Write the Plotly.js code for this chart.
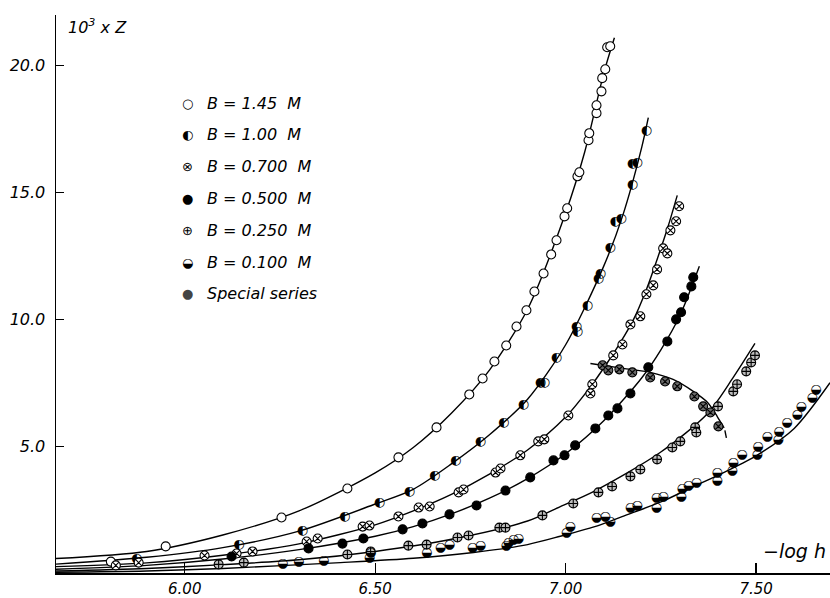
<!DOCTYPE html>
<html>
<head>
<meta charset="utf-8">
<script src="https://cdn.plot.ly/plotly-3.0.1.min.js"></script>
<style>html,body{margin:0;padding:0;background:#fff;}#chart{width:830px;height:598px;}</style>
</head>
<body>
<div id="chart"></div>
<script>
// ---------- data ----------
const xTickVals = [6.0, 6.5, 7.0, 7.5];
const xTickText = ['6.00', '6.50', '7.00', '7.50'];
const yTickVals = [5, 10, 15, 20];
const yTickText = ['5.0', '10.0', '15.0', '20.0'];

const legendLabels = ['B = 1.45  M', 'B = 1.00  M', 'B = 0.700  M', 'B = 0.500  M', 'B = 0.250  M', 'B = 0.100  M', 'Special series'];
const legendGlyphs = ['○', '◐', '⊗', '●', '⊕', '◒', '●'];

// B = 1.45 M (open circles)
const x145 = [5.806, 5.950, 6.254, 6.427, 6.561, 6.661, 6.747, 6.782, 6.813, 6.844, 6.871, 6.897, 6.918, 6.942, 6.962, 6.976, 6.997, 7.004, 7.031, 7.036, 7.060, 7.062, 7.081, 7.081, 7.094, 7.096, 7.104, 7.109, 7.117];
const y145 = [0.45, 1.05, 2.19, 3.33, 4.56, 5.74, 7.04, 7.67, 8.34, 8.97, 9.72, 10.36, 11.10, 11.81, 12.56, 13.12, 14.06, 14.38, 15.64, 15.80, 17.06, 17.34, 18.13, 18.44, 18.99, 19.51, 19.86, 20.73, 20.77];
const cx145 = [5.662, 5.9, 6.1, 6.3, 6.5, 6.6, 6.7, 6.8, 6.9, 7.0, 7.05, 7.1, 7.128];
const cy145 = [0.57, 0.85, 1.5, 2.45, 3.95, 4.95, 6.3, 8.0, 10.4, 14.2, 16.6, 19.7, 21.1];

// B = 1.00 M (half filled)
const x100 = [5.874, 6.142, 6.309, 6.420, 6.511, 6.590, 6.656, 6.711, 6.776, 6.837, 6.889, 6.934, 6.944, 6.976, 7.028, 7.031, 7.057, 7.086, 7.091, 7.117, 7.130, 7.146, 7.175, 7.175, 7.188, 7.212];
const y100 = [0.57, 1.12, 1.68, 2.23, 2.78, 3.21, 3.85, 4.44, 5.19, 5.94, 6.65, 7.51, 7.51, 8.50, 9.72, 9.53, 10.55, 11.62, 11.78, 12.84, 13.83, 13.98, 15.29, 16.15, 16.19, 17.42];
const cx100 = [5.662, 5.9, 6.1, 6.3, 6.5, 6.6, 6.7, 6.8, 6.9, 7.0, 7.1, 7.15, 7.2, 7.217];
const cy100 = [0.35, 0.62, 1.0, 1.65, 2.72, 3.3, 4.3, 5.45, 6.85, 9.0, 12.1, 14.1, 16.8, 17.95];

// B = 0.700 M
const x070 = [5.819, 5.879, 6.052, 6.136, 6.178, 6.320, 6.349, 6.467, 6.485, 6.561, 6.614, 6.643, 6.719, 6.732, 6.816, 6.829, 6.881, 6.928, 6.944, 7.007, 7.065, 7.070, 7.125, 7.149, 7.170, 7.196, 7.212, 7.230, 7.240, 7.256, 7.267, 7.275, 7.290, 7.298];
const y070 = [0.30, 0.41, 0.69, 0.77, 0.85, 1.24, 1.36, 1.83, 1.87, 2.23, 2.58, 2.62, 3.18, 3.29, 3.96, 4.12, 4.64, 5.19, 5.27, 6.21, 7.08, 7.44, 8.58, 9.01, 9.80, 10.12, 10.99, 11.34, 11.97, 12.80, 12.60, 13.51, 13.87, 14.46];
const cx070 = [5.662, 5.9, 6.1, 6.3, 6.5, 6.6, 6.7, 6.8, 6.9, 7.0, 7.06, 7.109, 7.143, 7.178, 7.212, 7.243, 7.269, 7.293];
const cy070 = [0.25, 0.4, 0.7, 1.15, 1.9, 2.45, 3.1, 3.9, 4.85, 6.15, 7.24, 8.28, 9.07, 9.99, 11.18, 12.49, 13.67, 14.89];

// B = 0.500 M (filled)
const x050 = [6.123, 6.325, 6.414, 6.469, 6.572, 6.624, 6.695, 6.766, 6.842, 6.907, 6.968, 6.997, 7.025, 7.078, 7.112, 7.136, 7.170, 7.217, 7.267, 7.290, 7.303, 7.311, 7.330, 7.335];
const y050 = [0.65, 0.97, 1.16, 1.36, 1.72, 1.95, 2.31, 2.66, 3.25, 3.77, 4.44, 4.64, 5.03, 5.70, 6.21, 6.49, 7.08, 8.11, 9.13, 10.00, 10.28, 10.87, 11.30, 11.66];
const cx050 = [5.662, 5.9, 6.1, 6.3, 6.5, 6.6, 6.7, 6.8, 6.9, 7.0, 7.1, 7.2, 7.25, 7.3, 7.351];
const cy050 = [0.15, 0.3, 0.55, 0.92, 1.45, 1.83, 2.33, 2.95, 3.72, 4.7, 6.0, 7.7, 8.8, 10.15, 12.09];

// B = 0.250 M
const x025 = [6.089, 6.155, 6.427, 6.488, 6.587, 6.635, 6.716, 6.745, 6.826, 6.842, 6.939, 7.020, 7.086, 7.122, 7.170, 7.196, 7.240, 7.280, 7.301, 7.340, 7.343, 7.400, 7.440, 7.450, 7.474, 7.487, 7.497];
const y025 = [0.34, 0.41, 0.73, 0.85, 1.08, 1.12, 1.40, 1.48, 1.79, 1.79, 2.27, 2.74, 3.18, 3.41, 3.81, 4.08, 4.48, 4.95, 5.19, 5.74, 5.54, 6.57, 7.16, 7.44, 7.95, 8.30, 8.58];
const cx025 = [5.662, 5.9, 6.1, 6.3, 6.5, 6.7, 6.9, 6.986, 7.073, 7.248, 7.374, 7.44, 7.497];
const cy025 = [0.08, 0.18, 0.33, 0.52, 0.85, 1.33, 2.05, 2.62, 3.21, 4.75, 6.31, 7.71, 9.05];

// B = 0.100 M (half filled, lower half)
const x010 = [6.257, 6.299, 6.365, 6.485, 6.488, 6.635, 6.671, 6.695, 6.755, 6.776, 6.844, 6.850, 6.863, 6.876, 7.002, 7.012, 7.081, 7.104, 7.117, 7.170, 7.188, 7.238, 7.238, 7.256, 7.303, 7.306, 7.322, 7.343, 7.398, 7.398, 7.437, 7.440, 7.463, 7.503, 7.505, 7.529, 7.558, 7.560, 7.581, 7.608, 7.618, 7.647, 7.657];
const y010 = [0.37, 0.45, 0.49, 0.61, 0.81, 0.81, 1.01, 1.12, 1.01, 1.08, 1.08, 1.20, 1.32, 1.36, 1.60, 1.83, 2.19, 2.23, 2.03, 2.58, 2.66, 2.58, 2.98, 3.02, 3.02, 3.33, 3.45, 3.57, 3.65, 3.96, 4.04, 4.36, 4.67, 4.67, 4.99, 5.39, 5.27, 5.58, 5.94, 6.25, 6.57, 6.92, 7.24];
const cx010 = [5.662, 5.9, 6.1, 6.409, 6.6, 6.758, 6.9, 6.986, 7.091, 7.162, 7.25, 7.335, 7.42, 7.503, 7.6, 7.694];
const cy010 = [0.03, 0.08, 0.18, 0.41, 0.58, 0.81, 1.12, 1.45, 1.9, 2.3, 2.8, 3.4, 4.0, 4.65, 5.7, 7.5];

// Special series
const xSp = [7.097, 7.112, 7.141, 7.175, 7.222, 7.261, 7.293, 7.338, 7.361, 7.380, 7.401];
const ySp = [8.19, 7.99, 8.03, 7.91, 7.71, 7.55, 7.36, 6.96, 6.57, 6.33, 5.78];
const cxSp = [7.065, 7.151, 7.222, 7.282, 7.335, 7.372, 7.398, 7.416];
const cySp = [8.26, 8.07, 7.91, 7.63, 7.16, 6.73, 6.17, 5.72];
const cxSpDash = [7.418, 7.422];
const cySpDash = [5.62, 5.33];

// ---------- drawing ----------
const W = 830, H = 598, ML = 56, MR = 0, MT = 15, MB = 25;
const pw = W - ML - MR, ph = H - MT - MB;
const px2paper = p => (p - ML) / pw;
const py2paper = p => (H - MB - p) / ph;

const FONT = 'DejaVu Sans';
const lineStyle = {color: '#000', width: 1.4};

function curve(x, y, dash) {
  return {x: x, y: y, type: 'scatter', mode: 'lines', line: Object.assign({shape: 'spline', smoothing: 0.8, dash: dash || 'solid'}, lineStyle), showlegend: false, hoverinfo: 'skip'};
}
function markers(x, y, symbol, color, lineColor, size) {
  return {x: x, y: y, type: 'scatter', mode: 'markers', showlegend: false,
    marker: {symbol: symbol, size: size || 9, color: color, line: {color: lineColor, width: 1.1}}};
}
function glyphs(x, y, g) {
  return {x: x, y: y, type: 'scatter', mode: 'text', showlegend: false, text: x.map(() => g),
    textposition: 'middle center', textfont: {family: FONT, size: 13, color: '#000'}};
}

const traces = [
  curve(cx145, cy145), curve(cx100, cy100), curve(cx070, cy070), curve(cx050, cy050),
  curve(cx025, cy025), curve(cx010, cy010), curve(cxSp, cySp), curve(cxSpDash, cySpDash),
  markers(x145, y145, 'circle', '#fff', '#000', 9),
  glyphs(x100, y100, '◐'),
  markers(x070, y070, 'circle-x', '#fff', '#000', 9),
  markers(x050, y050, 'circle', '#000', '#000', 9),
  markers(x025, y025, 'circle-cross', '#bdbdbd', '#000', 9),
  glyphs(x010, y010, '◒'),
  markers(xSp, ySp, 'circle-x', '#6a6a6a', '#000', 9)
];

const annotations = [];
const rowY0 = 103, rowDY = 31.8;
legendLabels.forEach((lab, i) => {
  const yy = rowY0 + i * rowDY;
  const col = (i === 6) ? '#444' : '#000';
  annotations.push({xref: 'paper', yref: 'paper', x: px2paper(187), y: py2paper(yy), xanchor: 'center', yanchor: 'middle',
    text: '<span style="color:' + col + '">' + legendGlyphs[i] + '</span>', showarrow: false,
    font: {family: FONT, size: 13, color: '#000'}});
  annotations.push({xref: 'paper', yref: 'paper', x: px2paper(205), y: py2paper(yy), xanchor: 'left', yanchor: 'middle',
    text: lab, showarrow: false, font: {family: FONT, size: 16, color: '#000', style: 'italic'}});
});
annotations.push({xref: 'paper', yref: 'paper', x: px2paper(66), y: py2paper(26), xanchor: 'left', yanchor: 'middle',
  text: '10<sup>3</sup> x Z', showarrow: false, font: {family: FONT, size: 16, color: '#000', style: 'italic'}});
annotations.push({xref: 'paper', yref: 'paper', x: px2paper(828), y: py2paper(551), xanchor: 'right', yanchor: 'middle',
  text: '\u2212log h', showarrow: false, font: {family: FONT, size: 19, color: '#000', style: 'italic'}});

const layout = {
  width: W, height: H,
  margin: {l: ML, r: MR, t: MT, b: MB, pad: 0},
  paper_bgcolor: '#fff', plot_bgcolor: '#fff',
  showlegend: false,
  font: {family: FONT, color: '#000'},
  xaxis: {range: [5.662, 7.694], showgrid: false, zeroline: false, showline: true, linecolor: '#000', linewidth: 1.5,
    ticks: 'inside', ticklen: 10, tickwidth: 1.2, tickcolor: '#000', tickmode: 'array', tickvals: xTickVals, ticktext: xTickText,
    tickfont: {family: FONT, size: 15, color: '#000', style: 'italic'}, ticklabelstandoff: 1, mirror: false, fixedrange: true},
  yaxis: {range: [0, 22.0], showgrid: false, zeroline: false, showline: true, linecolor: '#000', linewidth: 1.5,
    ticks: 'inside', ticklen: 8, tickwidth: 1.2, tickcolor: '#000', tickmode: 'array', tickvals: yTickVals, ticktext: yTickText,
    tickfont: {family: FONT, size: 16, color: '#000', style: 'italic'}, ticklabelstandoff: 6, mirror: false, fixedrange: true},
  annotations: annotations
};

Plotly.newPlot('chart', traces, layout, {displayModeBar: false, staticPlot: true});
</script>
</body>
</html>
